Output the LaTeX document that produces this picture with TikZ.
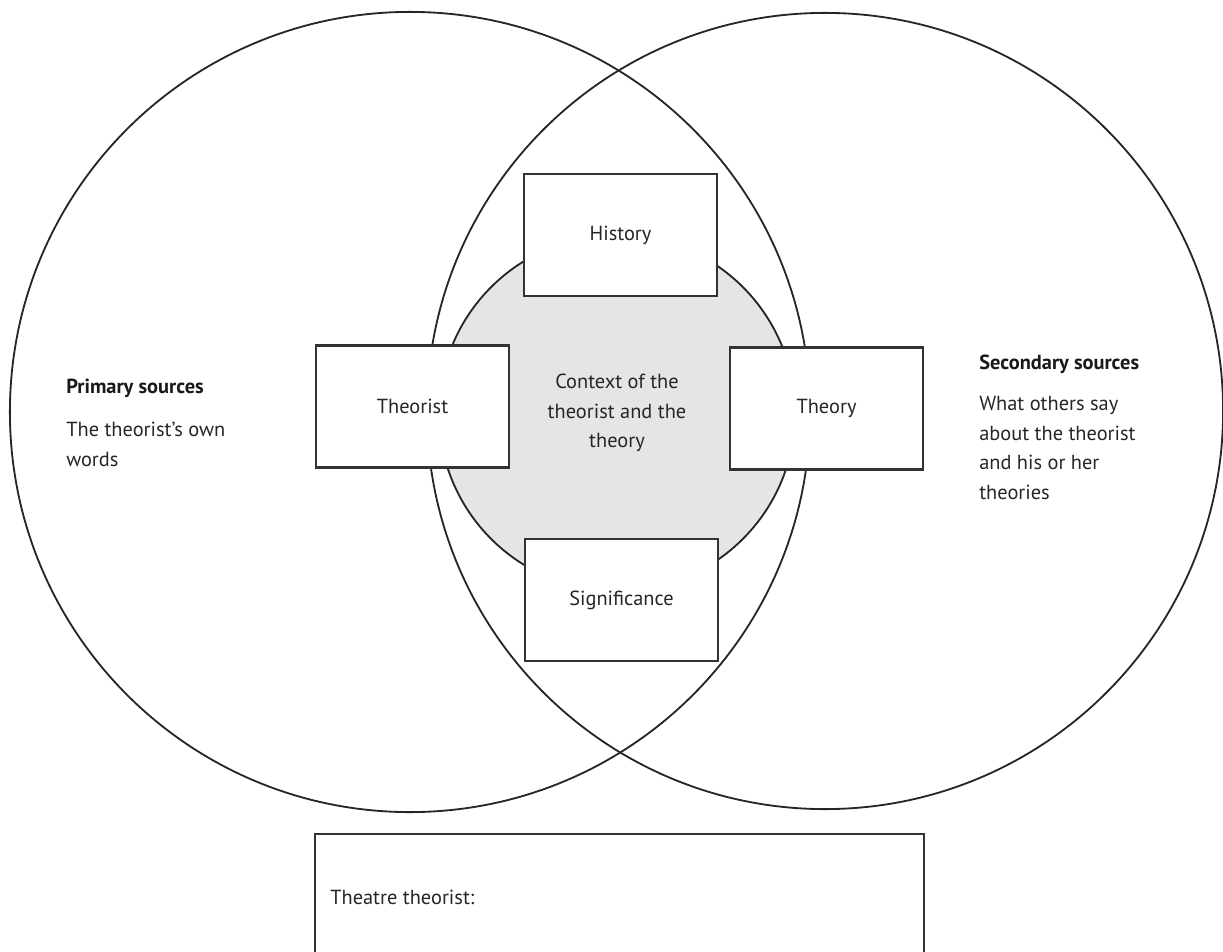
\documentclass[tikz,border=0pt]{standalone}
\usepackage{fontspec}
\setmainfont{PT Sans}
\usetikzlibrary{positioning}

\tikzset{
  venn/.style={draw=black!85, line width=1.3pt},
  core/.style={draw=black!85, line width=1.3pt, fill=black!10},
  topic/.style={draw=black!80, line width=1.6pt, fill=white, minimum width=4.83cm, minimum height=3.05cm, inner sep=0pt, text=black!85, font=\bodyfont},
  note/.style={inner sep=0pt, align=left, text=black!85, font=\bodyfont},
  heading/.style={inner sep=0pt, text=black!90, font=\bodyfont\bfseries}
}
\newcommand{\bodyfont}{\fontsize{14.5}{21.1}\selectfont}

\begin{document}
\begin{tikzpicture}[x=0.025cm, y=-0.025cm]
  \useasboundingbox (0,0) rectangle (1223,952);
  \clip (0,0) rectangle (1223,952);

  % the two source circles
  \draw[venn] (410,412) circle[radius=10cm];
  \draw[venn] (825,411) circle[radius=9.95cm];
  % context in the middle
  \draw[core] (617,413) circle[radius=4.45cm];
  \node[note, align=center] (context) at (617,413) {Context of the\\theorist and the\\theory};

  % the four topics
  \node[topic] (history) at (620.5,235) {History};
  \node[topic] (theorist) at (412.5,406.5) {Theorist};
  \node[topic] (theory) at (826.5,408.5) {Theory};
  \node[topic] (significance) at (621.5,600) {Significance};

  % sources
  \node[heading, anchor=west] (primary) at (66,388) {Primary sources};
  \node[note, anchor=north west] (primarytext) at (66,422) {The theorist’s own\\words};
  \node[heading, anchor=west] (secondary) at (979,364) {Secondary sources};
  \node[note, anchor=north west] (secondarytext) at (979,396) {What others say\\about the theorist\\and his or her\\theories};

  % name of the theorist
  \node[draw=black!80, line width=1.6pt, fill=white, minimum width=15.22cm, minimum height=6cm, anchor=north] (namebox) at (619.5,833) {};
  \node[note, anchor=west] (namelabel) at (330,897) {Theatre theorist:};
\end{tikzpicture}
\end{document}
